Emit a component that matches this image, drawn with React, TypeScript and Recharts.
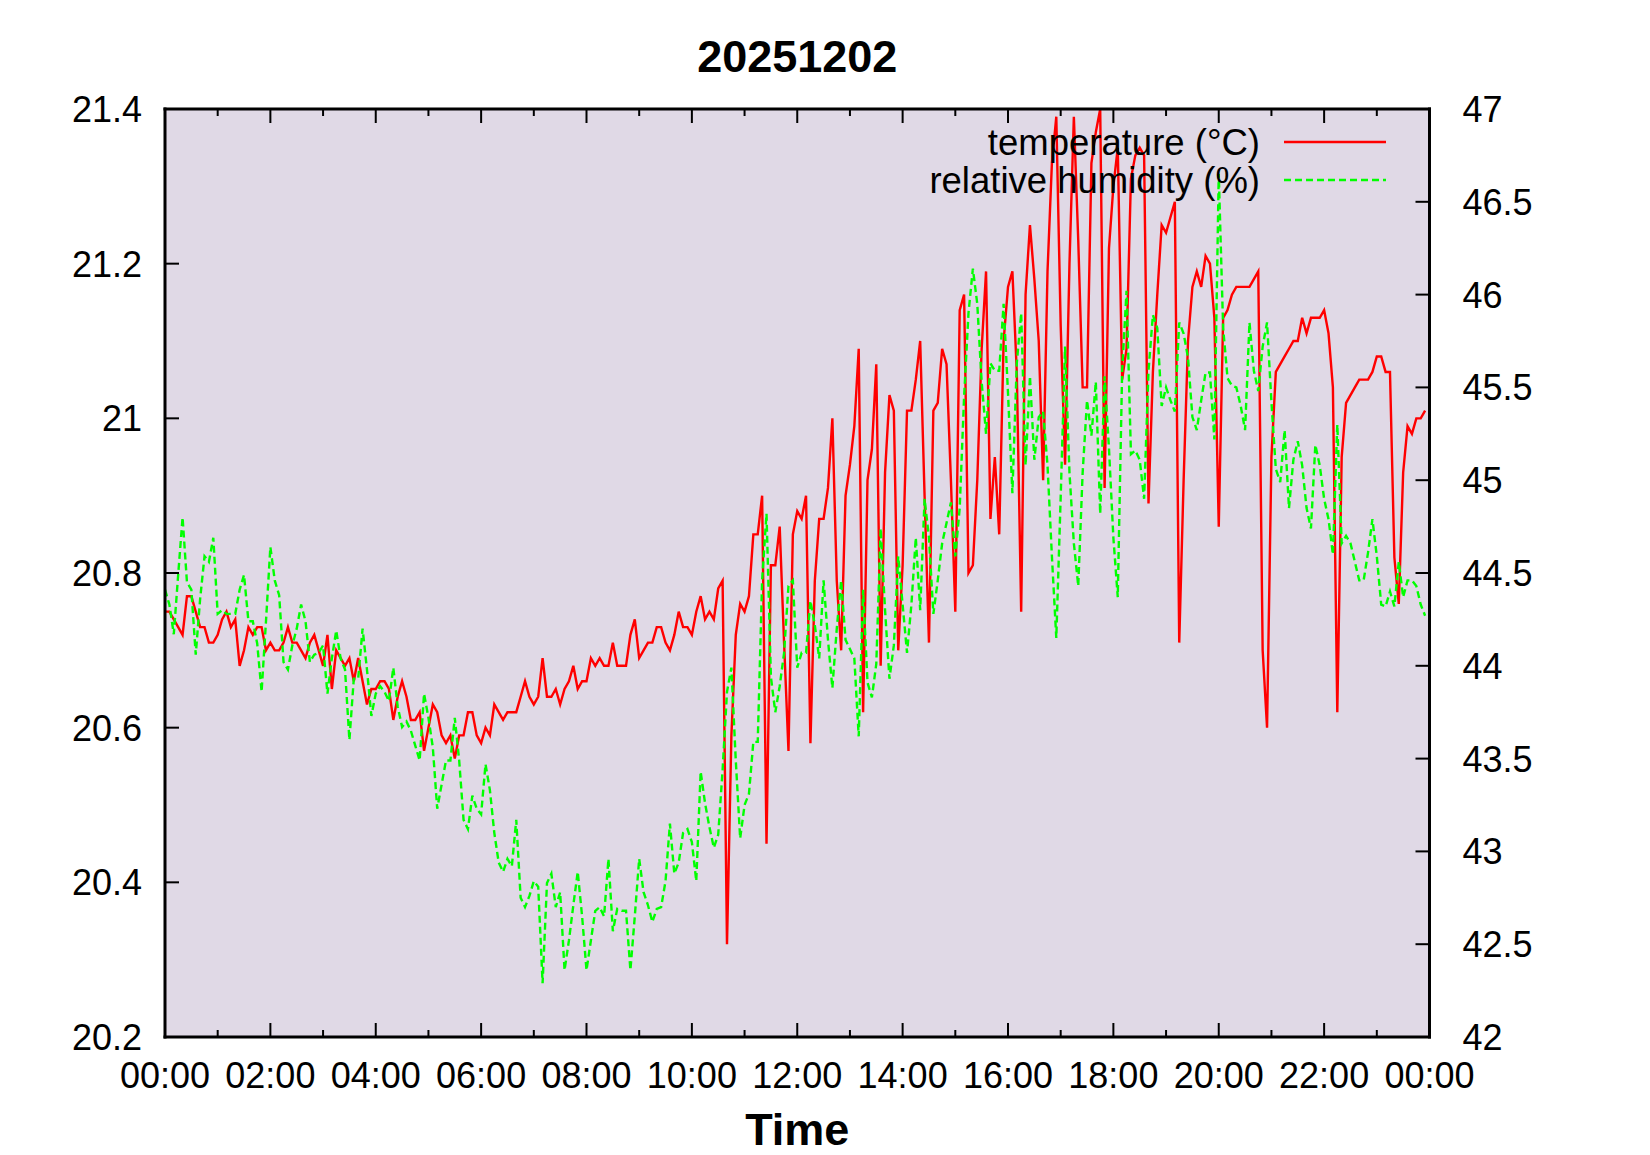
import React from 'react';
import { LineChart, Line, XAxis, YAxis, CartesianGrid, Legend } from 'recharts';

// one reading every 5 minutes, 00:00 .. 23:55
const temperature = [
  20.75, 20.75, 20.74, 20.73, 20.72, 20.77, 20.77, 20.75, 20.73, 20.73,
  20.71, 20.71, 20.72, 20.74, 20.75, 20.73, 20.74, 20.68, 20.70, 20.73,
  20.72, 20.73, 20.73, 20.70, 20.71, 20.70, 20.70, 20.71, 20.73, 20.71,
  20.71, 20.70, 20.69, 20.71, 20.72, 20.70, 20.68, 20.72, 20.65, 20.70,
  20.69, 20.68, 20.69, 20.66, 20.69, 20.66, 20.63, 20.65, 20.65, 20.66,
  20.66, 20.65, 20.61, 20.64, 20.66, 20.64, 20.61, 20.61, 20.62, 20.57,
  20.60, 20.63, 20.62, 20.59, 20.58, 20.59, 20.56, 20.59, 20.59, 20.62,
  20.62, 20.59, 20.58, 20.60, 20.59, 20.63, 20.62, 20.61, 20.62, 20.62,
  20.62, 20.64, 20.66, 20.64, 20.63, 20.64, 20.69, 20.64, 20.64, 20.65,
  20.63, 20.65, 20.66, 20.68, 20.65, 20.66, 20.66, 20.69, 20.68, 20.69,
  20.68, 20.68, 20.71, 20.68, 20.68, 20.68, 20.72, 20.74, 20.69, 20.70,
  20.71, 20.71, 20.73, 20.73, 20.71, 20.70, 20.72, 20.75, 20.73, 20.73,
  20.72, 20.75, 20.77, 20.74, 20.75, 20.74, 20.78, 20.79, 20.32, 20.59,
  20.72, 20.76, 20.75, 20.77, 20.85, 20.85, 20.90, 20.45, 20.81, 20.81,
  20.86, 20.71, 20.57, 20.85, 20.88, 20.87, 20.90, 20.58, 20.79, 20.87,
  20.87, 20.91, 21.00, 20.79, 20.70, 20.90, 20.94, 20.99, 21.09, 20.62,
  20.92, 20.96, 21.07, 20.68, 20.93, 21.03, 21.01, 20.70, 20.81, 21.01,
  21.01, 21.05, 21.10, 20.90, 20.71, 21.01, 21.02, 21.09, 21.07, 20.92,
  20.75, 21.14, 21.16, 20.80, 20.81, 20.92, 21.09, 21.19, 20.87, 20.95,
  20.85, 21.10, 21.17, 21.19, 21.06, 20.75, 21.16, 21.25, 21.18, 21.10,
  20.92, 21.19, 21.33, 21.39, 21.12, 20.94, 21.20, 21.39, 21.23, 21.04,
  21.04, 21.33, 21.37, 21.40, 20.91, 21.22, 21.30, 21.35, 21.05, 21.09,
  21.31, 21.34, 21.35, 21.34, 20.89, 21.06, 21.16, 21.25, 21.24, 21.26,
  21.28, 20.71, 20.92, 21.10, 21.17, 21.19, 21.17, 21.21, 21.20, 21.13,
  20.86, 21.13, 21.14, 21.16, 21.17, 21.17, 21.17, 21.17, 21.18, 21.19,
  20.70, 20.60, 20.95, 21.06, 21.07, 21.08, 21.09, 21.10, 21.10, 21.13,
  21.11, 21.13, 21.13, 21.13, 21.14, 21.11, 21.04, 20.62, 20.95, 21.02,
  21.03, 21.04, 21.05, 21.05, 21.05, 21.06, 21.08, 21.08, 21.06, 21.06,
  20.82, 20.76, 20.93, 20.99, 20.98, 21.00, 21.00, 21.01,
];

const humidity = [
  44.41, 44.33, 44.17, 44.49, 44.80, 44.45, 44.41, 44.06, 44.36, 44.59,
  44.56, 44.69, 44.28, 44.30, 44.28, 44.28, 44.28, 44.41, 44.49, 44.24,
  44.24, 44.12, 43.86, 44.24, 44.64, 44.46, 44.38, 44.02, 43.98, 44.11,
  44.20, 44.33, 44.24, 44.02, 44.06, 44.07, 44.11, 43.85, 44.04, 44.19,
  44.04, 43.98, 43.60, 43.93, 43.93, 44.20, 43.98, 43.73, 43.85, 43.89,
  43.86, 43.81, 43.99, 43.78, 43.67, 43.70, 43.65, 43.57, 43.49, 43.85,
  43.72, 43.56, 43.23, 43.36, 43.49, 43.49, 43.72, 43.49, 43.17, 43.12,
  43.30, 43.23, 43.20, 43.47, 43.33, 43.10, 42.94, 42.89, 42.96, 42.92,
  43.17, 42.75, 42.70, 42.76, 42.84, 42.81, 42.29, 42.83, 42.88, 42.70,
  42.78, 42.36, 42.52, 42.71, 42.89, 42.65, 42.36, 42.52, 42.68, 42.70,
  42.65, 42.96, 42.57, 42.69, 42.68, 42.68, 42.36, 42.65, 42.96, 42.78,
  42.71, 42.62, 42.69, 42.70, 42.84, 43.15, 42.88, 42.94, 43.10, 43.12,
  43.05, 42.84, 43.43, 43.26, 43.13, 43.02, 43.09, 43.44, 43.86, 43.99,
  43.49, 43.07, 43.25, 43.31, 43.59, 43.59, 44.46, 44.82, 43.94, 43.75,
  43.89, 44.07, 44.43, 44.46, 43.99, 44.07, 44.07, 44.35, 44.22, 44.04,
  44.46, 44.14, 43.88, 44.20, 44.46, 44.14, 44.09, 44.04, 43.62, 44.41,
  43.91, 43.83, 44.01, 44.74, 44.30, 43.93, 44.11, 44.59, 44.33, 44.07,
  44.33, 44.69, 44.30, 44.90, 44.69, 44.28, 44.46, 44.66, 44.77, 44.88,
  44.59, 44.85, 45.45, 45.90, 46.14, 45.95, 45.53, 45.25, 45.63, 45.59,
  45.59, 45.95, 45.47, 44.93, 45.63, 45.90, 45.08, 45.56, 45.11, 45.34,
  45.37, 45.08, 44.59, 44.15, 44.91, 45.72, 45.04, 44.66, 44.43, 45.04,
  45.43, 45.24, 45.53, 44.82, 45.56, 45.17, 44.69, 44.37, 45.59, 46.02,
  45.14, 45.16, 45.11, 44.90, 45.59, 45.89, 45.82, 45.40, 45.50, 45.43,
  45.37, 45.85, 45.79, 45.66, 45.34, 45.27, 45.43, 45.58, 45.58, 45.22,
  46.65, 45.82, 45.55, 45.51, 45.50, 45.40, 45.27, 45.85, 45.59, 45.48,
  45.72, 45.85, 45.42, 45.06, 44.99, 45.27, 44.85, 45.11, 45.21, 45.08,
  44.85, 44.74, 45.19, 45.08, 44.90, 44.79, 44.60, 45.30, 44.66, 44.70,
  44.66, 44.56, 44.46, 44.46, 44.61, 44.79, 44.59, 44.33, 44.32, 44.40,
  44.32, 44.56, 44.37, 44.46, 44.46, 44.43, 44.33, 44.27,
];

const hourTicks = [
  0, 60, 120, 180, 240, 300, 360, 420, 480, 540, 600, 660, 720,
  780, 840, 900, 960, 1020, 1080, 1140, 1200, 1260, 1320, 1380, 1440,
];
const tempTicks = [20.2, 20.4, 20.6, 20.8, 21, 21.2, 21.4];
const humTicks = [42, 42.5, 43, 43.5, 44, 44.5, 45, 45.5, 46, 46.5, 47];

const FONT = '"Liberation Sans", Arial, Helvetica, sans-serif';
const BG = '#e0d9e6';

const rows = temperature.map((t, i) => ({ minute: i * 5, temp: t, hum: humidity[i] }));

const hhmm = (m: number) => `${String(Math.floor(m / 60) % 24).padStart(2, '0')}:00`;

const BottomTick = (props: any) => {
  const { x, y, payload } = props;
  const major = payload.value % 120 === 0;
  return (
    <g>
      <line x1={x} y1={y} x2={x} y2={y - (major ? 14 : 7)} stroke="#000" strokeWidth={2} />
      {major && (
        <text x={x} y={y + 51} textAnchor="middle" fontSize={36} fontFamily={FONT} fill="#000">
          {hhmm(payload.value)}
        </text>
      )}
    </g>
  );
};

const TopTick = (props: any) => {
  const { x, y, payload } = props;
  const major = payload.value % 120 === 0;
  return <line x1={x} y1={y} x2={x} y2={y + (major ? 14 : 7)} stroke="#000" strokeWidth={2} />;
};

const LeftTick = (props: any) => {
  const { x, y, payload } = props;
  return (
    <g>
      <line x1={x} y1={y} x2={x + 14} y2={y} stroke="#000" strokeWidth={2} />
      <text x={x - 23} y={y} dy="0.36em" textAnchor="end" fontSize={36} fontFamily={FONT} fill="#000">
        {String(payload.value)}
      </text>
    </g>
  );
};

const RightTick = (props: any) => {
  const { x, y, payload } = props;
  return (
    <g>
      <line x1={x} y1={y} x2={x - 14} y2={y} stroke="#000" strokeWidth={2} />
      <text x={x + 33} y={y} dy="0.36em" textAnchor="start" fontSize={36} fontFamily={FONT} fill="#000">
        {String(payload.value)}
      </text>
    </g>
  );
};

const renderLegend = () => (
  <svg width={600} height={100} style={{ display: 'block', overflow: 'visible' }}>
    <text x={460} y={35} dy="0.36em" textAnchor="end" fontSize={36.5} fontFamily={FONT} fill="#000">
      temperature (°C)
    </text>
    <line x1={484} x2={586} y1={35} y2={35} stroke="#ff0000" strokeWidth={2.4} />
    <text x={460} y={73} dy="0.36em" textAnchor="end" fontSize={36.5} fontFamily={FONT} fill="#000">
      relative humidity (%)
    </text>
    <line x1={484} x2={586} y1={73} y2={73} stroke="#00ff00" strokeWidth={2.4} strokeDasharray="7 4" />
  </svg>
);

const axisLine = { stroke: '#000', strokeWidth: 3, strokeLinecap: 'square' as const };

export default function App() {
  return (
    <div style={{ position: 'absolute', left: 0, top: 0, width: 1650, height: 1155, background: '#fff' }}>
      <LineChart width={1650} height={1155} data={rows} margin={{ top: 0, right: 0, bottom: 0, left: 0 }}>
        <CartesianGrid xAxisId="bottom" yAxisId="left" fill={BG} horizontal={false} vertical={false} />
        <XAxis
          xAxisId="top"
          orientation="top"
          dataKey="minute"
          type="number"
          domain={[0, 1440]}
          ticks={hourTicks}
          interval={0}
          height={109}
          tickSize={0}
          tickMargin={0}
          tickLine={false}
          axisLine={axisLine}
          tick={<TopTick />}
          label={{ value: '20251202', position: 'insideTop', offset: 40, fill: '#000', fontSize: 45, fontWeight: 'bold', fontFamily: FONT }}
        />
        <XAxis
          xAxisId="bottom"
          orientation="bottom"
          dataKey="minute"
          type="number"
          domain={[0, 1440]}
          ticks={hourTicks}
          interval={0}
          height={118}
          tickSize={0}
          tickMargin={0}
          tickLine={false}
          axisLine={axisLine}
          tick={<BottomTick />}
          label={{ value: 'Time', position: 'insideBottom', offset: 10, fill: '#000', fontSize: 45, fontWeight: 'bold', fontFamily: FONT }}
        />
        <YAxis
          yAxisId="left"
          orientation="left"
          domain={[20.2, 21.4]}
          ticks={tempTicks}
          interval={0}
          width={165}
          tickSize={0}
          tickMargin={0}
          tickLine={false}
          axisLine={axisLine}
          tick={<LeftTick />}
        />
        <YAxis
          yAxisId="right"
          orientation="right"
          domain={[42, 47]}
          ticks={humTicks}
          interval={0}
          width={220.5}
          tickSize={0}
          tickMargin={0}
          tickLine={false}
          axisLine={axisLine}
          tick={<RightTick />}
        />
        <Legend
          layout="horizontal"
          verticalAlign="middle"
          align="center"
          wrapperStyle={{ top: 107, left: 800, width: 600, height: 100 }}
          content={renderLegend}
        />
        <Line
          xAxisId="bottom"
          yAxisId="left"
          type="linear"
          dataKey="temp"
          stroke="#ff0000"
          strokeWidth={2.4}
          dot={false}
          activeDot={false}
          isAnimationActive={false}
        />
        <Line
          xAxisId="bottom"
          yAxisId="right"
          type="linear"
          dataKey="hum"
          stroke="#00ff00"
          strokeWidth={2.4}
          strokeDasharray="7 4"
          dot={false}
          activeDot={false}
          isAnimationActive={false}
        />
      </LineChart>
    </div>
  );
}
